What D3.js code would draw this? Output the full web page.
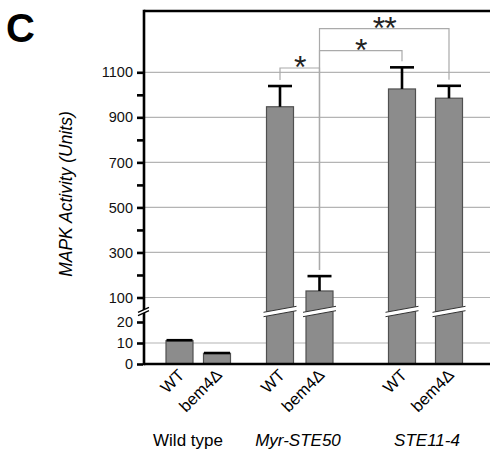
<!DOCTYPE html>
<html>
<head>
<meta charset="utf-8">
<script src="https://cdn.jsdelivr.net/npm/d3@7"></script>
<style>
  body { margin: 0; background: #fff; }
  svg { font-family: "Liberation Sans", Arial, sans-serif; }
</style>
</head>
<body>
<div id="chart"></div>
<script>
// data
const groups = ["Wild type", "Myr-STE50", "STE11-4"];
const strains = ["WT", "bem4\u0394"];
const groupItalic = [false, true, true];
const activity = [11.1, 5.1, 947, 129, 1026, 985];
const errors = [0.7, 0.6, 92, 66, 96, 55];
const lowTicks = [0, 10, 20];
const highTicks = [100, 300, 500, 700, 900, 1100];
const highMinor = [200, 400, 600, 800, 1000];
// significance brackets: [from bar, to bar, label, bracket level]
const sigPairs = [[2, 3, "*", 1119], [3, 4, "*", 1196], [3, 5, "**", 1294]];

const bars = activity.map((v, i) => ({
  key: groups[Math.floor(i / 2)] + "|" + strains[i % 2],
  group: groups[Math.floor(i / 2)],
  strain: strains[i % 2],
  value: v,
  err: errors[i]
}));

const width = 490, height = 452;
const svg = d3.select("#chart").append("svg")
  .attr("width", width).attr("height", height);

const plotLeft = 144, plotTop = 11, base = 364, breakY = 311.5;

// broken y axis: two linear pieces
const yLow = d3.scaleLinear().domain([0, 20]).range([base, 322]);
const yHigh = d3.scaleLinear().domain([100, 1100]).range([297.5, 72.3]);
const y = (v) => v <= 50 ? yLow(v) : yHigh(v);

const x = d3.scaleOrdinal()
  .domain(bars.map(d => d.key))
  .range([179.5, 217, 280, 319.5, 402, 449]);
const groupX = d3.scaleOrdinal().domain(groups).range([188, 298, 427]);
const barW = 27;

// gridlines
svg.append("g").selectAll("line")
  .data(highTicks.map(yHigh).concat([yLow(10)]))
  .join("line")
  .attr("x1", plotLeft).attr("x2", width)
  .attr("y1", d => d).attr("y2", d => d)
  .attr("stroke", "#b4b4b4").attr("stroke-width", 1.2);

// significance brackets
const sig = svg.append("g");
sigPairs.forEach(([a, b, lab, lvl]) => {
  const xa = x(bars[a].key), xb = x(bars[b].key);
  const yt = yHigh(lvl);
  const capA = y(bars[a].value + bars[a].err), capB = y(bars[b].value + bars[b].err);
  sig.append("path")
    .attr("d", `M${xa},${capA - 6}V${yt}H${xb}V${capB - 6}`)
    .attr("fill", "none").attr("stroke", "#aaa").attr("stroke-width", 1.2);
  sig.append("text")
    .attr("x", (xa + xb) / 2).attr("y", yt + 10)
    .attr("text-anchor", "middle")
    .attr("font-size", 32)
    .attr("letter-spacing", -1)
    .attr("fill", "#222")
    .text(lab);
});

// bars
svg.append("g").selectAll("rect")
  .data(bars)
  .join("rect")
  .attr("x", d => x(d.key) - barW / 2)
  .attr("width", barW)
  .attr("y", d => y(d.value))
  .attr("height", d => base - y(d.value))
  .attr("fill", "#8c8c8c")
  .attr("stroke", "#505050")
  .attr("stroke-width", 1.2);

// error bars
const eb = svg.append("g").attr("stroke", "#000").attr("stroke-width", 2.6);
eb.selectAll("line.v")
  .data(bars.filter(d => d.value > 50))
  .join("line").attr("class", "v")
  .attr("x1", d => x(d.key)).attr("x2", d => x(d.key))
  .attr("y1", d => y(d.value)).attr("y2", d => y(d.value + d.err));
eb.selectAll("line.cap")
  .data(bars)
  .join("line").attr("class", "cap")
  .attr("x1", d => x(d.key) - (d.value > 50 ? 12 : 13))
  .attr("x2", d => x(d.key) + (d.value > 50 ? 12 : 13))
  .attr("y1", d => y(d.value + d.err) + (d.value > 50 ? 0 : 1))
  .attr("y2", d => y(d.value + d.err) + (d.value > 50 ? 0 : 1));

// bar breaks
const slant = 3, gap = 2.2;
svg.append("g").selectAll("g")
  .data(bars.filter(d => d.value > 50))
  .join("g")
  .each(function(d) {
    const g = d3.select(this);
    const x0 = x(d.key) - barW / 2 - 3, x1 = x(d.key) + barW / 2 + 3;
    g.append("path")
      .attr("d", `M${x0},${breakY + slant - gap}L${x1},${breakY - slant - gap}L${x1},${breakY - slant + gap}L${x0},${breakY + slant + gap}Z`)
      .attr("fill", "#fff");
    [-gap, gap].forEach(o => {
      g.append("line")
        .attr("x1", x0).attr("y1", breakY + slant + o)
        .attr("x2", x1).attr("y2", breakY - slant + o)
        .attr("stroke", "#333").attr("stroke-width", 1);
    });
  });

// frame and axes
svg.append("line").attr("x1", plotLeft).attr("x2", width).attr("y1", plotTop).attr("y2", plotTop)
  .attr("stroke", "#000").attr("stroke-width", 2.6);
svg.append("line").attr("x1", plotLeft).attr("x2", plotLeft).attr("y1", plotTop - 1.3).attr("y2", base + 1.3)
  .attr("stroke", "#000").attr("stroke-width", 2.6);
svg.append("line").attr("x1", plotLeft).attr("x2", width).attr("y1", base).attr("y2", base)
  .attr("stroke", "#000").attr("stroke-width", 2.6);

// y axis pieces through d3 axes
svg.append("g").attr("transform", `translate(${plotLeft - 1},0)`)
  .call(d3.axisLeft(yHigh).tickValues(highTicks).tickSize(6).tickPadding(4).tickFormat(d3.format("d")));
svg.append("g").attr("transform", `translate(${plotLeft - 1},0)`)
  .call(d3.axisLeft(yLow).tickValues(lowTicks).tickSize(6).tickPadding(4).tickFormat(d3.format("d")));
svg.append("g").attr("transform", `translate(${plotLeft - 1},0)`)
  .call(d3.axisLeft(yHigh).tickValues(highMinor).tickSize(6).tickFormat(""));
svg.selectAll(".domain").remove();
svg.selectAll(".tick line").attr("stroke", "#000").attr("stroke-width", 2.6);
svg.selectAll(".tick text").attr("font-size", 14.5).attr("fill", "#111")
  .attr("font-family", "Liberation Sans, Arial, sans-serif");

// axis break mark
const ab = svg.append("g");
ab.append("path")
  .attr("d", `M${plotLeft - 6},${breakY + 2.5 - 1.6}L${plotLeft + 5},${breakY - 2.5 - 1.6}L${plotLeft + 5},${breakY - 2.5 + 1.6}L${plotLeft - 6},${breakY + 2.5 + 1.6}Z`)
  .attr("fill", "#fff");
[-1.6, 1.6].forEach(o => {
  ab.append("line")
    .attr("x1", plotLeft - 6).attr("y1", breakY + 2.5 + o)
    .attr("x2", plotLeft + 5).attr("y2", breakY - 2.5 + o)
    .attr("stroke", "#000").attr("stroke-width", 1.3);
});

// strain labels
svg.append("g").selectAll("text")
  .data(bars)
  .join("text")
  .attr("transform", d => `translate(${x(d.key) + 6},${base + 12}) rotate(-45)`)
  .attr("text-anchor", "end")
  .attr("font-size", 16.5)
  .text(d => d.strain);

// group labels
svg.append("g").selectAll("text")
  .data(groups)
  .join("text")
  .attr("x", d => groupX(d))
  .attr("y", 446)
  .attr("text-anchor", "middle")
  .attr("font-size", 17)
  .attr("font-style", (d, i) => groupItalic[i] ? "italic" : "normal")
  .text(d => d);

// y label
svg.append("text")
  .attr("transform", "translate(72,194) rotate(-90)")
  .attr("text-anchor", "middle")
  .attr("font-size", 17.5)
  .attr("font-style", "italic")
  .text("MAPK Activity (Units)");

// panel letter
svg.append("text")
  .attr("x", 6).attr("y", 42)
  .attr("font-size", 40)
  .attr("font-weight", "bold")
  .text("C");
</script>
</body>
</html>
